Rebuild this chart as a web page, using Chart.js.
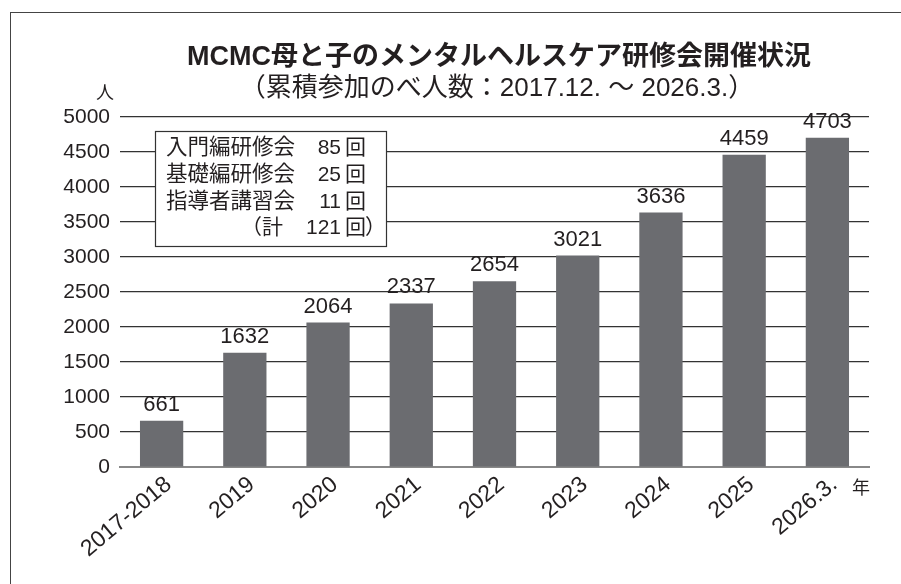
<!DOCTYPE html>
<html lang="ja">
<head>
<meta charset="utf-8">
<title>MCMC母と子のメンタルヘルスケア研修会開催状況</title>
<script src="https://cdn.jsdelivr.net/npm/chart.js@4"></script>
<style>
    html, body { margin: 0; padding: 0; background: #fff; overflow: hidden; }
    #frame { position: absolute; left: 10px; top: 12px; width: 1000px; height: 1000px; border: 1.5px solid #444; }
    #barChart { position: absolute; left: 0; top: 0; }
</style>
</head>
<body>
<div id="frame"></div>
<canvas id="barChart" width="901" height="584"></canvas>
<script>
// data
const tahunLabels = ['2017-2018', '2019', '2020', '2021', '2022', '2023', '2024', '2025', '2026.3.'];
const pesertaKumulatif = [661, 1632, 2064, 2337, 2654, 3021, 3636, 4459, 4703];
const yTicks = [0, 500, 1000, 1500, 2000, 2500, 3000, 3500, 4000, 4500, 5000];

// 研修会の種類と回数
const kursusNama = ['入門編研修会', '基礎編研修会', '指導者講習会'];
const kursusJumlah = [85, 25, 11];
const kursusTotal = 121;

const judul1 = 'MCMC母と子のメンタルヘルスケア研修会開催状況';
const judul2 = '（累積参加のべ人数：2017.12. ～ 2026.3.）';

const FONT = "'Liberation Sans', 'Noto Sans CJK JP', sans-serif";
const INK = '#231f20';

document.addEventListener('DOMContentLoaded', function () {
    const ctx = document.getElementById('barChart').getContext('2d');

    const extras = {
        id: 'extras',
        afterDatasetsDraw(chart) {
            const c = chart.ctx;
            c.save();
            c.fillStyle = INK;

            // title
            c.textAlign = 'center';
            c.textBaseline = 'middle';
            c.font = 'bold 27px ' + FONT;
            c.fillText(judul1, 499, 58);
            c.font = '26px ' + FONT;
            c.fillText(judul2, 497, 89);

            // unit labels
            c.font = '18px ' + FONT;
            c.fillText('人', 105, 94);
            c.fillText('年', 861, 489);

            // value labels
            c.font = '22px ' + FONT;
            c.textBaseline = 'bottom';
            const meta = chart.getDatasetMeta(0);
            meta.data.forEach((bar, i) => {
                c.fillText(String(pesertaKumulatif[i]), bar.x, bar.y - 5);
            });

            // info box
            c.fillStyle = '#fff';
            c.fillRect(155, 131, 231, 115);
            c.strokeStyle = '#333';
            c.lineWidth = 1.2;
            c.strokeRect(155.5, 131.5, 231, 115);

            c.fillStyle = INK;
            c.textBaseline = 'middle';
            const rows = [148.5, 175.5, 202];
            kursusNama.forEach((nama, i) => {
                c.font = '21.5px ' + FONT;
                c.textAlign = 'left';
                c.fillText(nama, 166, rows[i]);
                c.font = '21px ' + FONT;
                c.textAlign = 'right';
                c.fillText(String(kursusJumlah[i]), 341, rows[i]);
                c.fillText('回', 366, rows[i]);
            });
            const yTot = 228.5;
            c.font = '21px ' + FONT;
            c.textAlign = 'right';
            c.fillText('（計', 283, yTot);
            c.fillText(String(kursusTotal), 341, yTot);
            c.fillText('回', 366, yTot);
            c.textAlign = 'left';
            c.fillText('）', 365, yTot);

            c.restore();
        }
    };

    new Chart(ctx, {
        type: 'bar',
        data: {
            labels: tahunLabels,
            datasets: [
                {
                    label: '累積参加のべ人数',
                    data: pesertaKumulatif,
                    backgroundColor: '#6b6c70',
                    barPercentage: 0.52,
                    categoryPercentage: 1
                }
            ]
        },
        options: {
            responsive: false,
            animation: false,
            layout: { padding: { left: 0, top: 117, right: 32, bottom: 0 } },
            plugins: {
                legend: { display: false },
                title: { display: false },
                tooltip: { enabled: false }
            },
            scales: {
                x: {
                    afterFit(scale) { scale.height = 117; },
                    grid: { display: false, drawTicks: false },
                    border: { display: true, color: '#888', width: 2 },
                    ticks: {
                        minRotation: 40,
                        maxRotation: 40,
                        padding: 4,
                        labelOffset: 7,
                        color: INK,
                        font: { family: FONT, size: 23 }
                    }
                },
                y: {
                    min: 0,
                    max: 5000,
                    afterFit(scale) { scale.width = 120; },
                    afterBuildTicks(scale) {
                        scale.ticks = yTicks.map(v => ({ value: v }));
                    },
                    border: { display: false },
                    grid: {
                        drawTicks: false,
                        color: c => c.tick && c.tick.value === 0 ? 'rgba(0,0,0,0)' : '#333',
                        lineWidth: 1.2
                    },
                    ticks: {
                        padding: 10,
                        color: INK,
                        font: { family: FONT, size: 21 },
                        callback: v => String(v)
                    }
                }
            }
        },
        plugins: [extras]
    });
});
</script>
</body>
</html>
